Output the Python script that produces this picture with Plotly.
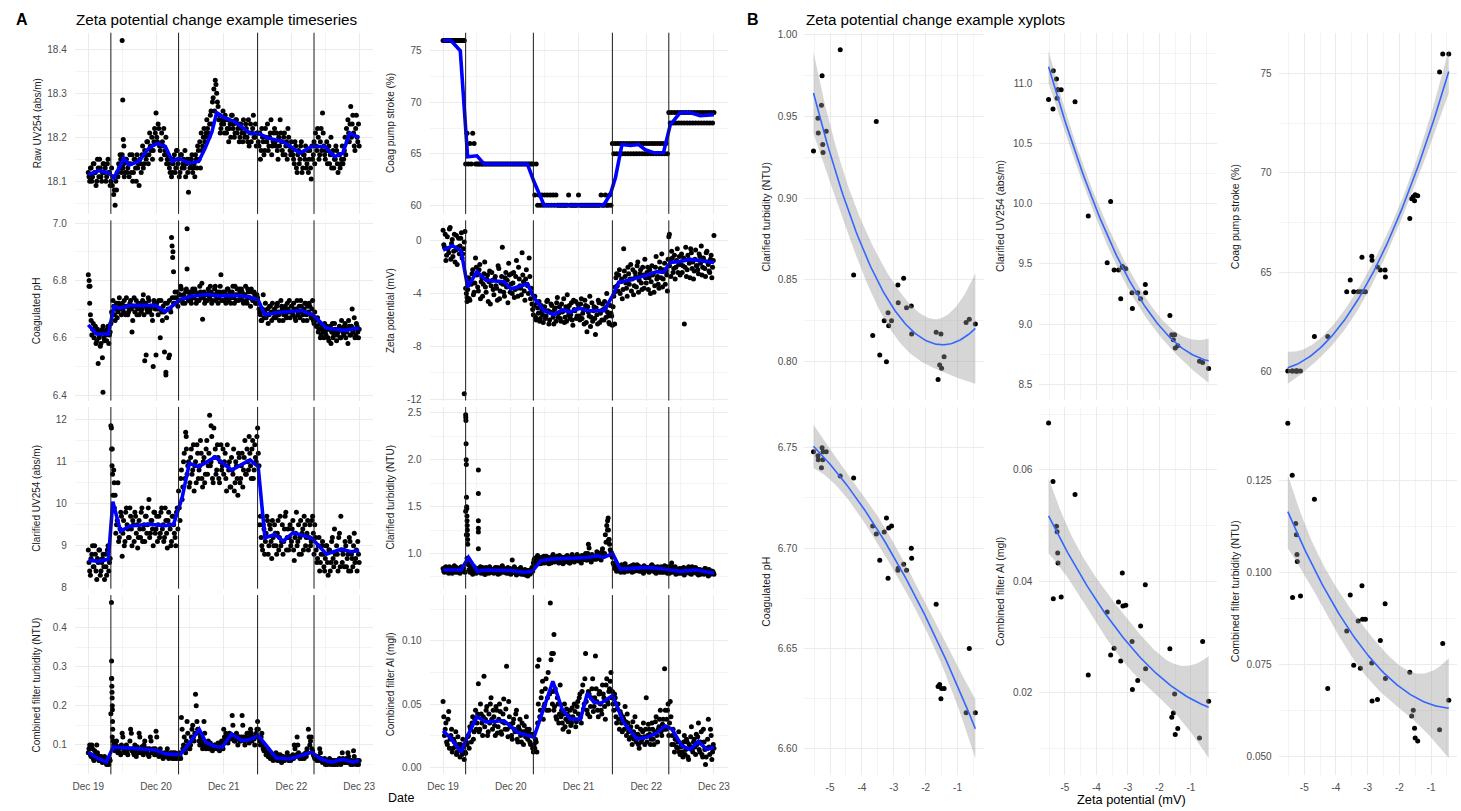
import numpy as np
import pandas as pd
import plotly.graph_objects as go

FONT = "Liberation Sans, Arial, sans-serif"
W, H = 1461, 811

# ======================= Panel A : time series =======================
T0 = pd.Timestamp("2020-12-19 00:00")
SAMPLE_STEP_H = 0.5             # readings every 30 min from Dec 19 00:00 (set a) ...
OFFSET_B_H = 0.25               # ... and a second reading set offset by 15 min (set b)
change_hours = [8, 32, 60, 80]  # vertical marker lines
date_tick_days = [0, 1, 2, 3, 4]
date_tick_text = ["Dec 19", "Dec 20", "Dec 21", "Dec 22", "Dec 23"]

raw_uv = [
    18.12, 18.10, 18.13, 18.11, 18.14, 18.12, 18.10, 18.13, 18.15, 18.11, 18.12, 18.14,
    18.13, 18.11, 18.15, 18.12, 18.10, 18.09, 18.07, 18.045, 18.08, 18.11, 18.13, 18.15,
    18.16, 18.14, 18.12, 18.15, 18.13, 18.11, 18.14, 18.16, 18.12, 18.15, 18.10, 18.13,
    18.09, 18.14, 18.16, 18.13, 18.17, 18.15, 18.19, 18.16, 18.18, 18.20, 18.17, 18.22,
    18.255, 18.19, 18.22, 18.17, 18.21, 18.18, 18.16, 18.20, 18.15, 18.14, 18.12, 18.11,
    18.14, 18.16, 18.13, 18.17, 18.15, 18.12, 18.16, 18.14, 18.13, 18.11, 18.15, 18.075,
    18.13, 18.15, 18.12, 18.14, 18.16, 18.13, 18.17, 18.19, 18.21, 18.18, 18.22, 18.20,
    18.24, 18.21, 18.23, 18.26, 18.28, 18.31, 18.33, 18.30, 18.27, 18.25, 18.22, 18.24,
    18.23, 18.25, 18.21, 18.24, 18.22, 18.20, 18.25, 18.23, 18.21, 18.24, 18.22, 18.19,
    18.23, 18.21, 18.24, 18.20, 18.22, 18.19, 18.18, 18.23, 18.21, 18.25, 18.20, 18.18,
    18.21, 18.18, 18.15, 18.22, 18.19, 18.17, 18.20, 18.23, 18.18, 18.21, 18.16, 18.19,
    18.22, 18.18, 18.17, 18.20, 18.24, 18.19, 18.16, 18.21, 18.18, 18.15, 18.20, 18.17,
    18.19, 18.16, 18.14, 18.18, 18.12, 18.17, 18.15, 18.19, 18.13, 18.16, 18.18, 18.14,
    18.12, 18.17, 18.105, 18.15, 18.19, 18.21, 18.17, 18.20, 18.16, 18.22, 18.255, 18.18,
    18.15, 18.19, 18.17, 18.14, 18.20, 18.16, 18.13, 18.15, 18.17, 18.12, 18.16, 18.14,
    18.18, 18.15, 18.20, 18.22, 18.24, 18.19, 18.27, 18.23, 18.21, 18.17, 18.25, 18.19,
    18.18]
raw_uv_b = [
    18.11, 18.13, 18.10, 18.14, 18.12, 18.09, 18.15, 18.11, 18.13, 18.10, 18.14, 18.12,
    18.10, 18.14, 18.12, 18.09, 18.13, 18.11, 18.08, 18.10, 18.12, 18.14, 18.16, 18.12,
    18.13, 18.11, 18.15, 18.12, 18.14, 18.16, 18.12, 18.10, 18.15, 18.13, 18.16, 18.14,
    18.15, 18.12, 18.18, 18.14, 18.16, 18.19, 18.14, 18.21, 18.17, 18.15, 18.19, 18.21,
    18.20, 18.23, 18.18, 18.15, 18.19, 18.22, 18.17, 18.14, 18.16, 18.13, 18.15, 18.12,
    18.15, 18.12, 18.17, 18.14, 18.11, 18.16, 18.13, 18.15, 18.17, 18.14, 18.12, 18.15,
    18.14, 18.16, 18.13, 18.11, 18.15, 18.18, 18.15, 18.13, 18.17, 18.20, 18.19, 18.21,
    18.22, 18.20, 18.25, 18.23, 18.29, 18.26, 18.32, 18.28, 18.24, 18.21, 18.23, 18.26,
    18.21, 18.24, 18.22, 18.19, 18.23, 18.25, 18.22, 18.20, 18.24, 18.21, 18.23, 18.20,
    18.22, 18.19, 18.21, 18.23, 18.20, 18.24, 18.21, 18.19, 18.22, 18.20, 18.23, 18.21,
    18.19, 18.21, 18.17, 18.20, 18.16, 18.22, 18.19, 18.17, 18.20, 18.24, 18.18, 18.21,
    18.19, 18.21, 18.15, 18.18, 18.21, 18.17, 18.20, 18.16, 18.19, 18.22, 18.18, 18.16,
    18.17, 18.15, 18.19, 18.13, 18.16, 18.14, 18.18, 18.12, 18.16, 18.15, 18.13, 18.17,
    18.15, 18.13, 18.18, 18.16, 18.14, 18.18, 18.22, 18.15, 18.19, 18.17, 18.21, 18.16,
    18.17, 18.14, 18.18, 18.16, 18.13, 18.17, 18.15, 18.18, 18.14, 18.16, 18.13, 18.15,
    18.14, 18.17, 18.16, 18.19, 18.21, 18.23, 18.20, 18.25, 18.18, 18.22, 18.20, 18.23]
raw_uv_out_h = [12.0, 12.2, 12.4, 12.6]
raw_uv_out_v = [18.42, 18.285, 18.195, 18.18]
raw_uv_sm_h = [0, 3.8, 7.3, 9.1, 12.6, 14.4, 17.9, 21.4, 24.4, 27.3, 29.8, 32.1, 35.5, 39.1, 41.4,
               43.8, 45.5, 47.8, 52.0, 57.3, 60.2, 63.8, 69.1, 75.0, 79.1, 83.8, 87.3, 90.2, 92.6, 96.0]
raw_uv_sm_v = [18.115, 18.124, 18.119, 18.107, 18.152, 18.137, 18.145, 18.175, 18.186, 18.179, 18.145,
               18.152, 18.141, 18.145, 18.175, 18.212, 18.256, 18.246, 18.235, 18.209, 18.209, 18.198,
               18.19, 18.164, 18.179, 18.179, 18.156, 18.164, 18.209, 18.199]

coag_pump = [
    76, 76, 76, 76, 76, 76, 76, 76, 76, 76, 76, 76,
    76, 76, 76, 76, 64, 67, 64, 66, 64, 67, 66, 64,
    64, 64, 64, 64, 64, 64, 64, 64, 64, 64, 64, 64,
    64, 64, 64, 64, 64, 64, 64, 64, 64, 64, 64, 64,
    64, 64, 64, 64, 64, 64, 64, 64, 64, 64, 64, 64,
    64, 64, 64, 64, 64, 61, 64, 60, 61, 60, 61, 60,
    61, 60, 61, 60, 61, 60, 61, 60, 61, 60, 60, 60,
    60, 60, 60, 60, 60, 61, 60, 60, 60, 60, 60, 60,
    61, 60, 60, 60, 60, 60, 60, 60, 60, 60, 60, 60,
    60, 60, 60, 60, 61, 60, 60, 61, 60, 60, 61, 60,
    66, 65, 66, 65, 66, 65, 66, 65, 66, 65, 66, 65,
    66, 65, 66, 65, 66, 65, 66, 65, 66, 65, 66, 65,
    66, 65, 66, 65, 66, 65, 66, 65, 66, 65, 66, 65,
    66, 65, 66, 65, 69, 68, 69, 68, 69, 68, 69, 68,
    69, 68, 69, 68, 69, 68, 69, 68, 69, 68, 69, 68,
    69, 68, 69, 68, 69, 68, 69, 68, 69, 68, 69, 68,
    69]
coag_pump_b = []
coag_pump_out_h = []
coag_pump_out_v = []
coag_pump_sm_h = [0, 2.8, 6.1, 8.7, 12, 14.6, 29.9, 32.2, 35.8, 56.9, 59.3, 61.1, 63.4, 66.4, 69.3,
                  71.6, 74.6, 78.1, 80.5, 84, 87.5, 91.1, 96]
coag_pump_sm_v = [76, 76, 75, 64.7, 64.8, 64.0, 64.0, 62.3, 60, 60, 61.1, 62.7, 65.9, 65.8, 65.9,
                  65.4, 65.1, 65.1, 67.8, 69.0, 69.0, 68.7, 68.8]

coag_ph = [
    6.82, 6.72, 6.66, 6.63, 6.60, 6.64, 6.59, 6.62, 6.61, 6.58, 6.63, 6.60,
    6.62, 6.59, 6.64, 6.61, 6.65, 6.68, 6.71, 6.66, 6.72, 6.69, 6.74, 6.70,
    6.72, 6.69, 6.71, 6.74, 6.68, 6.70, 6.73, 6.62, 6.71, 6.69, 6.73, 6.70,
    6.68, 6.72, 6.70, 6.75, 6.52, 6.71, 6.69, 6.73, 6.70, 6.68, 6.50, 6.72,
    6.54, 6.70, 6.73, 6.60, 6.69, 6.71, 6.55, 6.48, 6.72, 6.53, 6.70, 6.95,
    6.90, 6.74, 6.72, 6.76, 6.73, 6.75, 6.77, 6.72, 6.74, 6.76, 6.98, 6.73,
    6.75, 6.72, 6.77, 6.74, 6.76, 6.73, 6.75, 6.78, 6.74, 6.665, 6.76, 6.73,
    6.75, 6.77, 6.74, 6.76, 6.73, 6.75, 6.78, 6.74, 6.72, 6.76, 6.82, 6.75,
    6.73, 6.76, 6.74, 6.77, 6.75, 6.72, 6.76, 6.74, 6.78, 6.73, 6.75, 6.77,
    6.74, 6.76, 6.72, 6.75, 6.73, 6.77, 6.74, 6.71, 6.76, 6.73, 6.75, 6.72,
    6.74, 6.70, 6.68, 6.66, 6.75, 6.69, 6.67, 6.70, 6.68, 6.71, 6.66, 6.69,
    6.70, 6.67, 6.72, 6.68, 6.69, 6.71, 6.66, 6.70, 6.68, 6.72, 6.69, 6.67,
    6.71, 6.68, 6.70, 6.66, 6.73, 6.69, 6.67, 6.71, 6.68, 6.70, 6.72, 6.66,
    6.69, 6.71, 6.67, 6.73, 6.65, 6.66, 6.64, 6.62, 6.65, 6.61, 6.63, 6.60,
    6.62, 6.64, 6.60, 6.63, 6.58, 6.65, 6.61, 6.63, 6.59, 6.62, 6.64, 6.60,
    6.63, 6.61, 6.65, 6.62, 6.58, 6.64, 6.61, 6.70, 6.63, 6.60, 6.65, 6.62,
    6.63]
coag_ph_b = [
    6.78, 6.68, 6.61, 6.65, 6.62, 6.58, 6.63, 6.60, 6.57, 6.62, 6.64, 6.59,
    6.61, 6.63, 6.58, 6.62, 6.69, 6.73, 6.68, 6.70, 6.67, 6.72, 6.71, 6.68,
    6.70, 6.73, 6.68, 6.71, 6.69, 6.72, 6.70, 6.66, 6.74, 6.71, 6.68, 6.72,
    6.71, 6.69, 6.73, 6.68, 6.72, 6.70, 6.74, 6.69, 6.71, 6.66, 6.73, 6.70,
    6.72, 6.68, 6.70, 6.73, 6.66, 6.69, 6.72, 6.67, 6.70, 6.73, 6.69, 6.74,
    6.72, 6.76, 6.74, 6.71, 6.75, 6.78, 6.73, 6.75, 6.72, 6.77, 6.74, 6.76,
    6.73, 6.76, 6.74, 6.77, 6.72, 6.75, 6.73, 6.76, 6.79, 6.74, 6.72, 6.75,
    6.73, 6.76, 6.78, 6.72, 6.75, 6.77, 6.73, 6.76, 6.74, 6.78, 6.73, 6.76,
    6.75, 6.72, 6.77, 6.73, 6.76, 6.74, 6.78, 6.72, 6.75, 6.77, 6.73, 6.76,
    6.77, 6.73, 6.75, 6.78, 6.72, 6.76, 6.74, 6.77, 6.73, 6.76, 6.72, 6.75,
    6.72, 6.69, 6.66, 6.70, 6.67, 6.72, 6.68, 6.65, 6.71, 6.69, 6.72, 6.67,
    6.68, 6.71, 6.69, 6.66, 6.73, 6.70, 6.68, 6.71, 6.67, 6.70, 6.73, 6.69,
    6.69, 6.72, 6.67, 6.70, 6.68, 6.71, 6.73, 6.69, 6.66, 6.72, 6.68, 6.71,
    6.72, 6.68, 6.70, 6.66, 6.69, 6.64, 6.67, 6.63, 6.60, 6.64, 6.62, 6.65,
    6.61, 6.63, 6.59, 6.64, 6.62, 6.60, 6.65, 6.62, 6.61, 6.63, 6.60, 6.66,
    6.62, 6.64, 6.60, 6.63, 6.66, 6.61, 6.64, 6.62, 6.67, 6.61, 6.64, 6.60]
coag_ph_out_h = [0.3, 0.6, 3.5, 5.0, 5.2, 20.5, 27.5, 28.8, 29.7, 29.9, 30.2, 35.0]
coag_ph_out_v = [6.80, 6.78, 6.51, 6.53, 6.41, 6.54, 6.47, 6.54, 6.92, 6.88, 6.83, 6.84]
coag_ph_sm_h = [0, 2.9, 7.1, 9.1, 11.4, 15, 23.8, 27.3, 32.6, 36.7, 42.6, 46.1, 52, 56.7, 60.2,
                62.6, 67.3, 75.5, 79.6, 84.4, 90.8, 96]
coag_ph_sm_v = [6.645, 6.613, 6.613, 6.709, 6.703, 6.713, 6.713, 6.691, 6.734, 6.746, 6.751, 6.746,
                6.748, 6.743, 6.732, 6.68, 6.688, 6.695, 6.68, 6.634, 6.626, 6.634]

zeta = [
    0.8, -0.5, -1.5, 0.3, -0.9, 1.0, -0.2, -1.2, 0.5, -0.7, -1.8, 0.2,
    -0.4, 0.6, -1.0, -0.1, -3.6, -4.3, -2.8, -4.5, -3.3, -2.2, -3.9, -1.3,
    -2.6, -3.8, -1.8, -3.1, -4.2, -2.5, -3.5, -2.9, -4.6, -2.3, -3.4, -3.0,
    -4.1, -2.7, -3.6, -1.9, -4.4, -3.2, -0.5, -3.9, -2.8, -3.5, -4.7, -2.6,
    -3.3, -4.0, -2.4, -3.7, -1.5, -4.2, -2.9, -3.6, -0.9, -3.1, -4.5, -2.2,
    -3.4, -1.3, -4.4, -4.8, -5.6, -4.2, -6.0, -5.1, -4.6, -5.9, -5.3, -6.2,
    -5.0, -5.7, -4.5, -6.3, -5.4, -4.9, -5.8, -5.2, -6.1, -4.3, -5.5, -5.9,
    -4.8, -5.3, -6.2, -5.0, -4.1, -5.6, -5.9, -4.7, -6.4, -5.2, -4.6, -5.7,
    -5.1, -6.0, -4.4, -5.5, -6.3, -4.9, -6.9, -5.4, -4.2, -5.8, -6.1, -5.0,
    -7.1, -5.6, -4.5, -6.2, -5.3, -4.8, -6.0, -5.1, -4.0, -5.7, -6.3, -5.5,
    -6.4, -4.2, -3.5, -2.5, -3.8, -2.2, -3.1, -4.4, -0.6, -2.7, -3.6, -2.0,
    -3.3, -1.8, -2.9, -4.1, -2.4, -3.5, -1.6, -3.0, -2.2, -3.7, -2.6, -1.4,
    -3.2, -2.0, -2.8, -4.0, -1.9, -2.5, -3.4, -1.2, -2.7, -3.6, -2.1, -1.0,
    -2.9, -1.7, -2.3, -3.8, 0.3, -1.5, -0.8, -2.4, -1.1, -2.0, -0.6, -1.8,
    -2.6, -1.0, -1.9, -6.3, -0.5, -2.2, -1.4, -2.8, -0.9, -1.6, -2.3, -0.7,
    -1.9, -2.5, -1.2, -0.4, -2.0, -1.5, -2.7, -0.8, -1.8, -2.4, -1.1, -2.0,
    0.4]
zeta_b = [
    -0.3, 0.5, -1.1, -0.6, 0.9, -1.4, 0.1, -0.8, -1.6, 0.4, -0.5, -1.0,
    0.2, -1.3, -0.6, 0.7, -4.0, -3.7, -4.4, -3.0, -2.5, -4.1, -3.2, -2.0,
    -3.5, -2.2, -4.4, -2.8, -3.3, -1.6, -3.9, -2.6, -3.1, -4.8, -2.4, -3.7,
    -2.9, -3.4, -4.5, -2.1, -3.8, -2.7, -3.3, -4.2, -2.4, -3.0, -1.7, -3.9,
    -2.5, -3.2, -4.3, -2.7, -3.6, -2.0, -3.4, -4.1, -2.6, -3.8, -2.9, -3.3,
    -4.0, -2.7, -3.6, -5.2, -4.9, -5.8, -4.7, -5.5, -6.1, -4.9, -5.6, -5.2,
    -5.9, -4.6, -5.3, -6.0, -4.8, -5.5, -6.3, -5.1, -4.7, -5.8, -5.0, -6.1,
    -5.4, -4.4, -5.8, -6.1, -5.2, -4.9, -5.6, -6.0, -4.5, -5.3, -5.9, -4.8,
    -5.7, -4.8, -5.9, -5.2, -4.5, -6.2, -5.0, -5.7, -6.5, -4.7, -5.3, -5.9,
    -5.1, -6.3, -4.7, -5.5, -6.0, -5.2, -4.6, -5.8, -5.4, -6.2, -4.9, -5.7,
    -5.0, -3.9, -2.8, -3.4, -2.6, -4.0, -2.9, -3.7, -2.3, -3.2, -4.2, -2.5,
    -2.9, -3.8, -2.2, -3.4, -2.7, -1.9, -3.9, -2.5, -3.2, -2.0, -3.6, -2.8,
    -2.4, -3.7, -2.2, -3.1, -2.6, -3.9, -2.0, -2.9, -3.3, -1.6, -2.8, -3.5,
    -2.2, -3.3, -2.6, -1.4, -1.9, -2.7, -1.3, -2.1, -2.9, -1.5, -2.4, -1.2,
    -1.8, -2.4, -1.3, -2.0, -2.7, -1.1, -1.7, -0.6, -2.1, -2.9, -1.4, -1.9,
    -2.2, -1.0, -1.7, -2.6, -1.3, -2.1, -0.9, -1.6, -2.3, -1.4, -2.8, -1.5]
zeta_out_h = [7.5, 8.5, 60.8, 80.2]
zeta_out_v = [-11.6, -4.6, -6.3, 0.5]
zeta_sm_h = [0, 3.4, 6.4, 8.7, 12, 15.2, 21.6, 24, 29.9, 32.2, 35.8, 39.3, 42.2, 45.2, 48.1, 51.1,
             57, 60.5, 62.2, 65.8, 68.7, 71.6, 75.8, 78.1, 80.5, 84, 87.5, 92.2, 96]
zeta_sm_v = [-0.7, -0.38, -0.76, -3.5, -2.34, -3.0, -3.1, -3.65, -3.27, -4.3, -5.3, -5.6, -5.24, -5.4,
             -5.1, -5.3, -5.3, -4.0, -3.15, -3.0, -2.8, -2.65, -2.34, -2.4, -1.64, -1.56, -1.41, -1.5, -1.64]

clar_uv = [
    8.9, 8.4, 8.7, 9.0, 8.5, 8.8, 8.2, 8.6, 8.9, 8.4, 8.7, 8.5,
    8.8, 8.3, 9.0, 8.6, 11.85, 11.3, 10.8, 10.2, 9.5, 10.5, 9.2, 9.8,
    8.75, 9.6, 9.1, 9.9, 9.4, 9.2, 9.7, 9.0, 9.5, 9.8, 9.3, 8.95,
    9.6, 9.2, 9.9, 9.4, 9.1, 9.7, 9.5, 10.1, 9.3, 9.6, 9.0, 9.8,
    9.4, 9.1, 9.7, 9.3, 9.9, 9.5, 9.2, 9.6, 8.95, 9.8, 9.4, 9.1,
    9.7, 9.3, 9.0, 9.9, 10.3, 9.6, 10.8, 10.4, 11.2, 11.7, 10.7, 11.0,
    10.5, 11.3, 10.8, 10.3, 11.0, 11.4, 10.6, 10.9, 11.2, 10.4, 11.1, 10.7,
    11.5, 10.9, 12.1, 11.0, 10.6, 11.8, 11.3, 10.8, 11.1, 10.5, 11.4, 10.9,
    10.7, 11.2, 10.3, 10.9, 11.0, 10.4, 10.8, 11.3, 10.5, 10.9, 10.2, 11.1,
    10.6, 11.2, 10.8, 11.5, 10.7, 11.0, 11.6, 10.9, 11.3, 10.6, 11.4, 11.0,
    11.8, 10.9, 9.7, 9.0, 9.5, 8.8, 9.3, 9.6, 9.0, 9.4, 8.7, 9.2,
    9.5, 9.0, 9.3, 8.9, 9.7, 9.1, 8.8, 9.4, 9.8, 9.2, 8.9, 9.5,
    9.1, 9.6, 8.65, 9.3, 9.0, 9.5, 9.2, 8.8, 9.4, 9.7, 9.0, 9.3,
    8.9, 9.5, 9.1, 9.7, 8.8, 9.2, 8.6, 9.0, 8.4, 8.8, 9.1, 8.5,
    8.7, 9.0, 8.3, 8.9, 8.6, 9.2, 8.5, 8.8, 9.0, 8.4, 9.3, 9.7,
    8.6, 8.9, 9.1, 8.5, 8.8, 9.2, 8.4, 8.7, 9.0, 8.6, 8.9, 9.1,
    8.6]
clar_uv_b = [
    8.6, 8.3, 8.8, 8.5, 9.0, 8.4, 8.7, 8.9, 8.3, 8.6, 8.8, 8.2,
    8.5, 8.9, 8.4, 8.7, 11.3, 10.2, 9.9, 9.3, 9.6, 9.1, 9.4, 9.7,
    9.3, 9.0, 9.8, 9.5, 9.2, 9.9, 9.4, 9.6, 9.1, 9.7, 9.5, 9.2,
    9.4, 9.8, 9.1, 9.5, 9.7, 9.3, 9.9, 9.2, 9.6, 9.4, 9.8, 9.3,
    9.7, 9.5, 9.2, 9.8, 9.4, 9.1, 9.9, 9.3, 9.6, 9.5, 9.0, 9.7,
    9.5, 9.2, 9.8, 9.4, 9.9, 10.6, 10.1, 11.0, 10.6, 11.3, 10.9, 10.4,
    11.1, 10.7, 11.4, 10.9, 10.5, 11.2, 10.8, 11.5, 10.6, 11.0, 10.5, 11.3,
    10.7, 11.2, 10.9, 11.6, 10.5, 11.1, 10.7, 11.4, 10.6, 11.0, 10.8, 11.3,
    11.0, 10.6, 11.4, 10.8, 10.4, 11.1, 10.7, 10.3, 11.0, 10.6, 11.2, 10.5,
    10.9, 10.4, 11.1, 10.7, 11.3, 10.8, 11.2, 10.6, 11.5, 10.8, 11.1, 11.6,
    11.2, 9.5, 9.2, 8.9, 9.4, 9.1, 9.7, 8.8, 9.5, 9.1, 9.6, 9.0,
    9.3, 8.8, 9.6, 9.2, 9.0, 9.5, 9.1, 9.7, 8.9, 9.4, 9.2, 9.0,
    9.4, 8.9, 9.2, 9.8, 9.1, 8.8, 9.6, 9.3, 8.9, 9.5, 9.2, 9.6,
    9.2, 9.0, 9.6, 9.3, 9.5, 8.9, 8.7, 9.2, 8.6, 9.0, 8.8, 8.4,
    9.0, 8.6, 8.9, 8.4, 9.1, 8.7, 9.4, 8.6, 8.8, 9.2, 8.5, 8.9,
    8.8, 8.5, 9.0, 8.7, 8.4, 9.1, 8.8, 8.5, 9.3, 8.7, 8.4, 8.8]
clar_uv_out_h = [8.2, 8.4, 8.6, 9.2, 34.7, 43.5]
clar_uv_out_v = [11.8, 10.9, 10.7, 10.5, 11.6, 11.85]
clar_uv_sm_h = [0, 3.8, 7.1, 8.7, 11.4, 14.9, 21.4, 27.3, 30.2, 33.2, 35.8, 39.1, 45, 50.8, 57.3,
                60.2, 62.6, 66.1, 69.1, 72.6, 79.1, 84.4, 89.6, 93.2, 96]
clar_uv_sm_v = [8.66, 8.63, 8.68, 10.05, 9.35, 9.47, 9.51, 9.48, 9.51, 10.13, 10.96, 10.88, 11.11,
                10.8, 11.04, 10.88, 9.19, 9.27, 9.11, 9.31, 9.19, 8.8, 8.92, 8.86, 8.89]

clar_turb = [
    0.84, 0.80, 0.86, 0.82, 0.79, 0.85, 0.81, 0.83, 0.87, 0.80, 0.84, 0.82,
    0.79, 0.86, 0.83, 0.81, 1.45, 0.95, 0.88, 0.80, 0.84, 0.78, 0.86, 0.82,
    0.80, 1.05, 0.83, 0.79, 0.85, 0.81, 0.78, 0.84, 0.82, 0.86, 0.80, 0.83,
    0.79, 0.85, 0.81, 0.78, 0.84, 0.82, 0.87, 0.80, 0.83, 0.79, 0.85, 0.81,
    0.78, 0.93, 0.80, 0.84, 0.77, 0.82, 0.79, 0.85, 0.81, 0.78, 0.83, 0.80,
    0.76, 0.82, 0.79, 0.85, 0.90, 0.95, 0.88, 0.98, 0.92, 0.89, 0.96, 0.93,
    0.90, 0.97, 0.93, 0.89, 0.95, 0.92, 0.99, 0.91, 0.94, 0.97, 0.90, 0.95,
    0.93, 0.89, 0.96, 0.92, 0.98, 0.94, 0.90, 0.97, 0.93, 0.91, 0.96, 0.99,
    0.92, 0.95, 0.90, 0.97, 0.94, 1.00, 0.93, 1.10, 0.96, 0.91, 0.98, 0.94,
    0.97, 1.02, 0.95, 0.99, 0.93, 1.05, 0.98, 1.20, 1.30, 1.38, 1.10, 1.02,
    0.96, 0.88, 0.85, 0.81, 0.87, 0.83, 0.80, 0.86, 0.82, 0.89, 0.84, 0.81,
    0.86, 0.83, 0.80, 0.88, 0.84, 0.82, 0.87, 0.81, 0.85, 0.83, 0.79, 0.86,
    0.82, 0.85, 0.80, 0.84, 0.88, 0.81, 0.83, 0.79, 0.86, 0.82, 0.84, 0.80,
    0.83, 0.87, 0.81, 0.79, 0.85, 0.82, 0.90, 0.80, 0.84, 0.78, 0.83, 0.81,
    0.79, 0.84, 0.81, 0.77, 0.83, 0.80, 0.86, 0.82, 0.78, 0.84, 0.81, 0.85,
    0.80, 0.77, 0.83, 0.79, 0.82, 0.78, 0.84, 0.80, 0.76, 0.82, 0.79, 0.81,
    0.78]
clar_turb_b = [
    0.81, 0.85, 0.83, 0.80, 0.86, 0.82, 0.79, 0.84, 0.81, 0.85, 0.80, 0.83,
    0.85, 0.81, 0.84, 0.80, 1.20, 0.90, 0.83, 0.86, 0.80, 0.84, 0.81, 0.79,
    0.84, 0.82, 0.86, 0.80, 0.83, 0.78, 0.85, 0.81, 0.79, 0.84, 0.82, 0.80,
    0.83, 0.80, 0.85, 0.82, 0.79, 0.86, 0.81, 0.84, 0.80, 0.82, 0.79, 0.84,
    0.82, 0.80, 0.86, 0.79, 0.83, 0.81, 0.84, 0.78, 0.82, 0.80, 0.77, 0.82,
    0.80, 0.78, 0.83, 0.81, 0.93, 0.89, 0.96, 0.91, 0.95, 0.93, 0.90, 0.97,
    0.94, 0.91, 0.96, 0.93, 0.90, 0.97, 0.94, 0.92, 0.96, 0.93, 0.98, 0.92,
    0.96, 0.93, 0.91, 0.97, 0.93, 0.90, 0.95, 0.99, 0.92, 0.95, 0.93, 0.97,
    0.95, 0.92, 0.98, 0.94, 0.97, 0.93, 1.00, 1.06, 0.94, 0.99, 0.95, 0.97,
    0.94, 0.98, 1.00, 0.95, 1.02, 0.97, 1.00, 1.12, 1.25, 1.15, 1.04, 0.98,
    0.90, 0.84, 0.87, 0.82, 0.85, 0.81, 0.88, 0.84, 0.80, 0.86, 0.83, 0.85,
    0.82, 0.87, 0.84, 0.81, 0.85, 0.88, 0.83, 0.86, 0.81, 0.84, 0.87, 0.82,
    0.85, 0.81, 0.84, 0.87, 0.82, 0.86, 0.80, 0.85, 0.83, 0.80, 0.86, 0.82,
    0.80, 0.84, 0.86, 0.82, 0.79, 0.87, 0.84, 0.81, 0.86, 0.82, 0.79, 0.84,
    0.82, 0.79, 0.85, 0.81, 0.80, 0.84, 0.79, 0.83, 0.86, 0.80, 0.83, 0.79,
    0.83, 0.80, 0.78, 0.82, 0.80, 0.84, 0.79, 0.81, 0.83, 0.78, 0.81, 0.80]
clar_turb_out_h = [8.0, 8.05, 8.1, 8.15, 8.2, 8.25, 8.3, 8.35, 8.4, 8.45, 8.5, 8.55, 8.6, 8.65, 8.7,
                   8.75, 12.5, 12.5, 12.5, 12.5, 12.5, 58.3, 58.6, 58.8]
clar_turb_out_v = [2.48, 2.45, 2.42, 2.17, 2.00, 1.95, 1.60, 1.50, 1.48, 1.40, 1.35, 1.30, 1.25, 1.20,
                   1.15, 1.10, 1.89, 1.64, 1.35, 1.27, 1.23, 1.35, 1.25, 1.15]
clar_turb_sm_h = [0, 6.4, 9, 12.2, 15.2, 24, 28.7, 31.6, 34.6, 38.1, 51, 54.6, 56.9, 60.1, 62.8,
                  72.2, 78.1, 84, 89.9, 96]
clar_turb_sm_v = [0.824, 0.824, 0.958, 0.81, 0.824, 0.817, 0.80, 0.81, 0.922, 0.94, 0.958, 0.975,
                  0.958, 1.0, 0.834, 0.852, 0.834, 0.81, 0.824, 0.789]

filt_turb = [
    0.08, 0.10, 0.07, 0.09, 0.06, 0.075, 0.10, 0.065, 0.06, 0.07, 0.055, 0.065,
    0.06, 0.05, 0.055, 0.065, 0.18, 0.12, 0.10, 0.085, 0.11, 0.08, 0.095, 0.075,
    0.13, 0.09, 0.08, 0.10, 0.075, 0.09, 0.14, 0.085, 0.08, 0.10, 0.07, 0.09,
    0.13, 0.08, 0.095, 0.075, 0.11, 0.085, 0.09, 0.07, 0.12, 0.08, 0.09, 0.075,
    0.135, 0.08, 0.07, 0.09, 0.075, 0.065, 0.08, 0.07, 0.09, 0.065, 0.075, 0.07,
    0.08, 0.065, 0.07, 0.075, 0.065, 0.07, 0.17, 0.09, 0.12, 0.08, 0.16, 0.10,
    0.09, 0.12, 0.15, 0.11, 0.23, 0.16, 0.13, 0.10, 0.12, 0.09, 0.16, 0.10,
    0.095, 0.11, 0.09, 0.10, 0.085, 0.095, 0.10, 0.09, 0.105, 0.085, 0.095, 0.10,
    0.14, 0.11, 0.12, 0.105, 0.13, 0.115, 0.175, 0.12, 0.11, 0.13, 0.10, 0.12,
    0.11, 0.175, 0.12, 0.10, 0.115, 0.13, 0.105, 0.14, 0.11, 0.12, 0.10, 0.13,
    0.16, 0.12, 0.10, 0.13, 0.09, 0.085, 0.075, 0.08, 0.07, 0.065, 0.075, 0.06,
    0.07, 0.08, 0.06, 0.065, 0.075, 0.055, 0.07, 0.06, 0.065, 0.08, 0.06, 0.07,
    0.065, 0.075, 0.10, 0.07, 0.12, 0.08, 0.065, 0.07, 0.075, 0.065, 0.08, 0.09,
    0.14, 0.10, 0.12, 0.085, 0.07, 0.065, 0.06, 0.07, 0.09, 0.065, 0.055, 0.06,
    0.05, 0.06, 0.055, 0.065, 0.05, 0.06, 0.055, 0.05, 0.06, 0.055, 0.065, 0.05,
    0.08, 0.06, 0.055, 0.065, 0.08, 0.06, 0.05, 0.055, 0.085, 0.06, 0.05, 0.055,
    0.06]
filt_turb_b = [
    0.09, 0.075, 0.10, 0.065, 0.085, 0.07, 0.08, 0.06, 0.07, 0.065, 0.06, 0.07,
    0.055, 0.06, 0.05, 0.06, 0.27, 0.11, 0.09, 0.10, 0.085, 0.09, 0.08, 0.10,
    0.12, 0.085, 0.095, 0.08, 0.09, 0.11, 0.13, 0.09, 0.075, 0.085, 0.095, 0.08,
    0.12, 0.09, 0.08, 0.10, 0.09, 0.08, 0.075, 0.09, 0.11, 0.085, 0.08, 0.09,
    0.12, 0.075, 0.085, 0.08, 0.07, 0.075, 0.07, 0.08, 0.075, 0.07, 0.08, 0.065,
    0.07, 0.08, 0.065, 0.07, 0.08, 0.065, 0.14, 0.10, 0.09, 0.11, 0.13, 0.09,
    0.10, 0.14, 0.12, 0.13, 0.20, 0.14, 0.11, 0.12, 0.10, 0.11, 0.13, 0.09,
    0.10, 0.09, 0.105, 0.095, 0.09, 0.10, 0.095, 0.10, 0.09, 0.10, 0.11, 0.09,
    0.12, 0.13, 0.11, 0.12, 0.12, 0.125, 0.15, 0.11, 0.125, 0.115, 0.12, 0.11,
    0.12, 0.15, 0.11, 0.12, 0.13, 0.11, 0.12, 0.13, 0.12, 0.115, 0.12, 0.14,
    0.14, 0.11, 0.12, 0.10, 0.085, 0.09, 0.08, 0.07, 0.075, 0.07, 0.065, 0.07,
    0.065, 0.07, 0.075, 0.06, 0.065, 0.07, 0.06, 0.065, 0.07, 0.07, 0.065, 0.06,
    0.07, 0.065, 0.09, 0.075, 0.10, 0.07, 0.07, 0.065, 0.07, 0.075, 0.07, 0.08,
    0.12, 0.11, 0.09, 0.075, 0.065, 0.07, 0.065, 0.06, 0.08, 0.06, 0.06, 0.065,
    0.055, 0.05, 0.06, 0.055, 0.06, 0.05, 0.06, 0.055, 0.05, 0.06, 0.055, 0.06,
    0.065, 0.055, 0.06, 0.055, 0.07, 0.055, 0.06, 0.05, 0.07, 0.055, 0.06, 0.05]
filt_turb_out_h = [8.2, 8.25, 8.3, 8.35, 8.4, 8.45, 8.5, 8.55, 8.6, 8.65]
filt_turb_out_v = [0.465, 0.315, 0.27, 0.25, 0.235, 0.22, 0.20, 0.19, 0.16, 0.14]
filt_turb_sm_h = [0, 3.2, 6.4, 8.8, 12, 23.8, 27.3, 32.6, 36.1, 39.3, 41.6, 44.9, 47.5, 50.8, 54.4,
                  57.3, 60.2, 63.8, 66.7, 71.4, 75.5, 79.1, 82.6, 86.1, 90.2, 93.8, 96]
filt_turb_sm_v = [0.081, 0.066, 0.056, 0.094, 0.093, 0.087, 0.077, 0.075, 0.107, 0.14, 0.107, 0.096,
                  0.094, 0.128, 0.111, 0.113, 0.124, 0.09, 0.066, 0.064, 0.073, 0.081, 0.063, 0.056,
                  0.063, 0.056, 0.06]

filt_al = [
    0.052, 0.025, 0.035, 0.018, 0.044, 0.022, 0.030, 0.015, 0.020, 0.028, 0.012, 0.018,
    0.008, 0.014, 0.022, 0.006, 0.011, 0.018, 0.025, 0.032, 0.020, 0.040, 0.028, 0.045,
    0.035, 0.066, 0.030, 0.042, 0.025, 0.072, 0.038, 0.048, 0.028, 0.035, 0.055, 0.030,
    0.040, 0.025, 0.045, 0.032, 0.050, 0.028, 0.036, 0.054, 0.030, 0.080, 0.024, 0.040,
    0.032, 0.022, 0.038, 0.028, 0.045, 0.020, 0.030, 0.025, 0.035, 0.018, 0.028, 0.040,
    0.022, 0.030, 0.018, 0.026, 0.012, 0.015, 0.020, 0.035, 0.085, 0.045, 0.060, 0.038,
    0.050, 0.070, 0.055, 0.045, 0.130, 0.090, 0.060, 0.048, 0.040, 0.055, 0.035, 0.065,
    0.045, 0.030, 0.050, 0.038, 0.042, 0.028, 0.045, 0.035, 0.040, 0.050, 0.032, 0.048,
    0.042, 0.058, 0.035, 0.065, 0.050, 0.090, 0.045, 0.060, 0.040, 0.055, 0.070, 0.048,
    0.088, 0.052, 0.040, 0.060, 0.045, 0.065, 0.055, 0.038, 0.070, 0.050, 0.062, 0.075,
    0.060, 0.045, 0.055, 0.035, 0.050, 0.030, 0.042, 0.028, 0.038, 0.048, 0.025, 0.035,
    0.022, 0.032, 0.018, 0.028, 0.040, 0.020, 0.026, 0.015, 0.030, 0.022, 0.035, 0.018,
    0.055, 0.025, 0.030, 0.018, 0.035, 0.022, 0.028, 0.040, 0.020, 0.032, 0.045, 0.025,
    0.038, 0.078, 0.030, 0.045, 0.025, 0.052, 0.018, 0.030, 0.012, 0.022, 0.015, 0.028,
    0.010, 0.018, 0.008, 0.025, 0.014, 0.020, 0.006, 0.016, 0.032, 0.012, 0.022, 0.010,
    0.018, 0.035, 0.012, 0.028, 0.008, 0.020, 0.002, 0.015, 0.038, 0.010, 0.025, 0.012,
    0.015]
filt_al_b = [
    0.040, 0.030, 0.020, 0.038, 0.015, 0.025, 0.012, 0.022, 0.016, 0.010, 0.024, 0.014,
    0.018, 0.010, 0.016, 0.012, 0.020, 0.024, 0.015, 0.030, 0.035, 0.022, 0.038, 0.030,
    0.042, 0.028, 0.050, 0.035, 0.040, 0.032, 0.045, 0.025, 0.042, 0.050, 0.038, 0.045,
    0.033, 0.048, 0.027, 0.038, 0.044, 0.026, 0.042, 0.035, 0.046, 0.030, 0.052, 0.034,
    0.025, 0.035, 0.030, 0.042, 0.022, 0.032, 0.038, 0.020, 0.028, 0.033, 0.024, 0.030,
    0.028, 0.020, 0.025, 0.015, 0.018, 0.022, 0.012, 0.050, 0.040, 0.055, 0.068, 0.048,
    0.062, 0.045, 0.075, 0.058, 0.085, 0.050, 0.045, 0.062, 0.038, 0.050, 0.042, 0.040,
    0.035, 0.042, 0.032, 0.046, 0.036, 0.040, 0.033, 0.047, 0.038, 0.044, 0.036, 0.052,
    0.055, 0.040, 0.060, 0.046, 0.070, 0.052, 0.042, 0.058, 0.048, 0.062, 0.044, 0.055,
    0.062, 0.045, 0.058, 0.050, 0.042, 0.058, 0.048, 0.065, 0.052, 0.060, 0.068, 0.055,
    0.050, 0.058, 0.040, 0.046, 0.038, 0.044, 0.035, 0.040, 0.030, 0.036, 0.042, 0.028,
    0.030, 0.024, 0.036, 0.022, 0.026, 0.032, 0.018, 0.024, 0.020, 0.028, 0.024, 0.030,
    0.020, 0.034, 0.026, 0.022, 0.030, 0.018, 0.036, 0.025, 0.030, 0.038, 0.028, 0.034,
    0.030, 0.045, 0.038, 0.050, 0.035, 0.040, 0.025, 0.018, 0.022, 0.016, 0.020, 0.012,
    0.016, 0.012, 0.020, 0.010, 0.022, 0.008, 0.018, 0.024, 0.014, 0.020, 0.016, 0.026,
    0.024, 0.014, 0.020, 0.010, 0.030, 0.014, 0.008, 0.022, 0.016, 0.030, 0.006, 0.018]
filt_al_out_h = [33.5, 39.1, 39.3]
filt_al_out_v = [0.080, 0.090, 0.105]
filt_al_sm_h = [0, 2.8, 6.4, 8.7, 12, 15.2, 21.6, 26.4, 32.2, 35.2, 38.9, 42.2, 45.2, 48.7, 51.1,
                53.4, 55.8, 60.1, 64, 68.7, 72.2, 75.2, 78.7, 81.1, 84.6, 87.5, 90.5, 93.4, 96]
filt_al_sm_v = [0.0288, 0.0228, 0.0118, 0.0249, 0.040, 0.0359, 0.0367, 0.0275, 0.0236, 0.0445, 0.068,
                0.0458, 0.038, 0.038, 0.0584, 0.0516, 0.0505, 0.0568, 0.0353, 0.0223, 0.0236, 0.0262,
                0.0327, 0.0301, 0.017, 0.0139, 0.0204, 0.0139, 0.0157]

# ======================= Panel B : xy plots =======================
zeta_x = [-5.52, -5.38, -5.37, -5.27, -5.25, -5.23, -5.22, -5.12, -4.68, -4.26, -3.66, -3.55, -3.44,
          -3.30, -3.23, -3.18, -3.16, -3.07, -2.87, -2.86, -2.69, -2.60, -2.45, -2.44, -1.67, -1.61,
          -1.56, -1.52, -1.50, -1.42, -0.73, -0.63, -0.44]
b_clar_turb = [0.929, 0.949, 0.940, 0.957, 0.975, 0.933, 0.928, 0.941, 0.991, 0.853, 0.816, 0.947,
               0.804, 0.825, 0.800, 0.830, 0.822, 0.825, 0.847, 0.836, 0.851, 0.833, 0.834, 0.817,
               0.818, 0.789, 0.798, 0.817, 0.796, 0.803, 0.824, 0.826, 0.823]
b_clar_uv = [10.87, 10.79, 11.11, 11.04, 10.88, 10.95, 10.95, 10.95, 10.85, 9.90, 9.51, 10.02, 9.45,
             9.45, 9.21, 9.48, 9.47, 9.46, 9.26, 9.13, 9.26, 9.21, 9.33, 9.26, 9.07, 8.91, 8.87, 8.91,
             8.80, 8.82, 8.69, 8.68, 8.63]
b_coag_pump = [60.0, 60.0, 60.0, 60.0, 60.0, 60.0, 60.0, 60.0, 61.75, 61.75, 64.0, 64.6, 64.0, 64.0,
               64.0, 65.75, 64.0, 64.0, 65.8, 65.6, 65.25, 65.1, 65.1, 64.75, 67.7, 68.7, 68.8, 68.6,
               68.9, 68.85, 75.1, 76.0, 76.0]
b_coag_ph = [6.748, 6.746, 6.744, 6.740, 6.750, 6.744, 6.748, 6.748, 6.736, 6.735, 6.711, 6.707,
             6.694, 6.708, 6.715, 6.685, 6.710, 6.711, 6.689, 6.690, 6.692, 6.689, 6.700, 6.695,
             6.672, 6.631, 6.632, 6.625, 6.630, 6.630, 6.618, 6.650, 6.618]
b_filt_al = [0.0684, 0.0579, 0.0369, 0.0499, 0.0489, 0.0451, 0.0433, 0.0372, 0.0556, 0.0232, 0.0345,
             0.0268, 0.0280, 0.0363, 0.0257, 0.0415, 0.0356, 0.0357, 0.0292, 0.0206, 0.0222, 0.0320,
             0.0394, 0.0243, 0.0279, 0.0156, 0.0164, 0.0198, 0.0125, 0.0136, 0.0119, 0.0292, 0.0185]
b_filt_turb = [0.1404, 0.1263, 0.0931, 0.1132, 0.1101, 0.1048, 0.1029, 0.0935, 0.1198, 0.0684,
               0.0840, 0.0938, 0.0747, 0.0867, 0.0739, 0.0963, 0.0872, 0.0872, 0.0753, 0.0650,
               0.0654, 0.0814, 0.0914, 0.0711, 0.0728, 0.0609, 0.0625, 0.0576, 0.0549, 0.0541,
               0.0572, 0.0806, 0.0652]
b_x_ticks = [-5, -4, -3, -2, -1]

# ======================= layout helpers =======================
A_COLS = [(73, 372), (429, 728)]
A_ROWS = [(30, 213), (219.5, 401.5), (408, 591.5), (598, 779)]
B_COLS = [(805, 985), (1041, 1219), (1281, 1460)]
B_ROWS = [(30, 401), (408.5, 780)]
A_YTITLE_X = [35, 390]
B_YTITLE_X = [767, 1002, 1238]


def dom_x(a, b):
    return [a / W, b / W]


def dom_y(top, bot):
    return [1 - bot / H, 1 - top / H]


def hours_to_time(hours):
    return [T0 + pd.Timedelta(hours=float(h)) for h in hours]


def axis_names(k):
    if k == 1:
        return "x", "y", "xaxis", "yaxis"
    return f"x{k}", f"y{k}", f"xaxis{k}", f"yaxis{k}"


GRID = "#EBEBEB"
MINOR = "#F4F4F4"
TICKFONT = dict(family=FONT, size=10, color="#4D4D4D")

fig = go.Figure()
layout = dict()
annotations = []
shapes = []

A_panels = [
    # row, col, title, pts, pts_b, out_h, out_v, sm_h, sm_v, yrange, yticks, fmt, yminor
    (0, 0, "Raw UV254 (abs/m)", raw_uv, raw_uv_b, raw_uv_out_h, raw_uv_out_v, raw_uv_sm_h, raw_uv_sm_v,
     [18.0256, 18.438], [18.1, 18.2, 18.3, 18.4], ".1f", [18.05, 18.15, 18.25, 18.35]),
    (0, 1, "Coag pump stroke (%)", coag_pump, coag_pump_b, coag_pump_out_h, coag_pump_out_v, coag_pump_sm_h,
     coag_pump_sm_v, [59.16, 76.76], [60, 65, 70, 75], "d", [62.5, 67.5, 72.5]),
    (1, 0, "Coagulated pH", coag_ph, coag_ph_b, coag_ph_out_h, coag_ph_out_v, coag_ph_sm_h, coag_ph_sm_v,
     [6.381, 7.0097], [6.4, 6.6, 6.8, 7.0], ".1f", [6.5, 6.7, 6.9]),
    (1, 1, "Zeta potential (mV)", zeta, zeta_b, zeta_out_h, zeta_out_v, zeta_sm_h, zeta_sm_v,
     [-12.11, 1.55], [-12, -8, -4, 0], "d", [-10, -6, -2]),
    (2, 0, "Clarified UV254 (abs/m)", clar_uv, clar_uv_b, clar_uv_out_h, clar_uv_out_v, clar_uv_sm_h,
     clar_uv_sm_v, [7.981, 12.299], [8, 9, 10, 11, 12], "d", [8.5, 9.5, 10.5, 11.5]),
    (2, 1, "Clarified turbidity (NTU)", clar_turb, clar_turb_b, clar_turb_out_h, clar_turb_out_v,
     clar_turb_sm_h, clar_turb_sm_v, [0.625, 2.563], [1.0, 1.5, 2.0, 2.5], ".1f", [0.75, 1.25, 1.75, 2.25]),
    (3, 0, "Combined filter turbidity (NTU)", filt_turb, filt_turb_b, filt_turb_out_h, filt_turb_out_v,
     filt_turb_sm_h, filt_turb_sm_v, [0.0246, 0.4837], [0.1, 0.2, 0.3, 0.4], ".1f",
     [0.05, 0.15, 0.25, 0.35, 0.45]),
    (3, 1, "Combined filter Al (mgl)", filt_al, filt_al_b, filt_al_out_h, filt_al_out_v, filt_al_sm_h,
     filt_al_sm_v, [-0.0057, 0.1363], [0.0, 0.05, 0.10], ".2f", [0.025, 0.075, 0.125]),
]

x_range_A = [T0 - pd.Timedelta(days=0.2), T0 + pd.Timedelta(days=4.2)]
date_tickvals = [T0 + pd.Timedelta(days=d) for d in date_tick_days]
date_minorvals = [T0 + pd.Timedelta(days=d + 0.5) for d in [-1] + date_tick_days]

MK = dict(color="black", size=5)

k = 0
for (r, c, title, pts, pts_b, oh, ov, smh, smv, yr, yt, yf, ym) in A_panels:
    k += 1
    xa, ya, xk, yk = axis_names(k)
    hrs_a = [i * SAMPLE_STEP_H for i in range(len(pts))]
    fig.add_trace(go.Scatter(x=hours_to_time(hrs_a), y=pts, mode="markers", xaxis=xa, yaxis=ya,
                             marker=MK, showlegend=False, hoverinfo="skip"))
    if pts_b:
        hrs_b = [OFFSET_B_H + i * SAMPLE_STEP_H for i in range(len(pts_b))]
        fig.add_trace(go.Scatter(x=hours_to_time(hrs_b), y=pts_b, mode="markers", xaxis=xa, yaxis=ya,
                                 marker=MK, showlegend=False, hoverinfo="skip"))
    if oh:
        fig.add_trace(go.Scatter(x=hours_to_time(oh), y=ov, mode="markers", xaxis=xa, yaxis=ya,
                                 marker=MK, showlegend=False, hoverinfo="skip"))
    fig.add_trace(go.Scatter(x=hours_to_time(smh), y=smv, mode="lines", xaxis=xa, yaxis=ya,
                             line=dict(color="#0000FF", width=3.6), showlegend=False, hoverinfo="skip"))
    for ch in change_hours:
        t = T0 + pd.Timedelta(hours=ch)
        shapes.append(dict(type="line", xref=xa, yref=f"{ya} domain", x0=t, x1=t, y0=0, y1=1,
                           line=dict(color="#1A1A1A", width=1), layer="above"))
    layout[xk] = dict(
        domain=dom_x(*A_COLS[c]), anchor=ya, type="date", range=x_range_A,
        tickmode="array", tickvals=date_tickvals, ticktext=date_tick_text,
        showticklabels=(r == 3), showgrid=True, gridcolor=GRID, gridwidth=1, zeroline=False,
        showline=False, ticks="outside", ticklen=3, tickcolor="rgba(0,0,0,0)", tickfont=TICKFONT,
        minor=dict(tickmode="array", tickvals=date_minorvals, showgrid=True, gridcolor=MINOR, gridwidth=1),
    )
    layout[yk] = dict(
        domain=dom_y(*A_ROWS[r]), anchor=xa, range=yr, tickmode="array", tickvals=yt,
        ticktext=[format(v, yf) for v in yt], showgrid=True, gridcolor=GRID, gridwidth=1, zeroline=False,
        showline=False, ticks="outside", ticklen=5, tickcolor="rgba(0,0,0,0)", tickfont=TICKFONT,
        minor=dict(tickmode="array", tickvals=ym, showgrid=True, gridcolor=MINOR, gridwidth=1),
    )
    ytop, ybot = A_ROWS[r]
    annotations.append(dict(text=title, xref="paper", yref="paper", x=A_YTITLE_X[c] / W,
                            y=1 - (ytop + ybot) / 2 / H, textangle=-90, showarrow=False,
                            xanchor="center", yanchor="middle",
                            font=dict(family=FONT, size=10, color="#1A1A1A")))


def quad_fit(x, y, n=100, tval=2.042):
    x = np.asarray(x, float)
    y = np.asarray(y, float)
    X = np.column_stack([np.ones_like(x), x, x ** 2])
    beta = np.linalg.lstsq(X, y, rcond=None)[0]
    resid = y - X @ beta
    s2 = resid @ resid / (len(x) - 3)
    XtXi = np.linalg.inv(X.T @ X)
    xs = np.linspace(x.min(), x.max(), n)
    Xs = np.column_stack([np.ones_like(xs), xs, xs ** 2])
    yhat = Xs @ beta
    se = np.sqrt(np.einsum("ij,jk,ik->i", Xs, XtXi, Xs) * s2)
    return xs, yhat, yhat - tval * se, yhat + tval * se


B_panels = [
    # row, col, title, y values, yrange, yticks, fmt, minor
    (0, 0, "Clarified turbidity (NTU)", b_clar_turb, [0.7765, 1.0014], [0.80, 0.85, 0.90, 0.95, 1.00],
     ".2f", [0.825, 0.875, 0.925, 0.975]),
    (0, 1, "Clarified UV254 (abs/m)", b_clar_uv, [8.367, 11.426], [8.5, 9.0, 9.5, 10.0, 10.5, 11.0],
     ".1f", [8.75, 9.25, 9.75, 10.25, 10.75, 11.25]),
    (0, 2, "Coag pump stroke (%)", b_coag_pump, [58.54, 77.08], [60, 65, 70, 75], "d",
     [62.5, 67.5, 72.5]),
    (1, 0, "Coagulated pH", b_coag_ph, [6.5868, 6.7701], [6.60, 6.65, 6.70, 6.75], ".2f",
     [6.625, 6.675, 6.725]),
    (1, 1, "Combined filter Al (mgl)", b_filt_al, [0.0052, 0.0712], [0.02, 0.04, 0.06], ".2f",
     [0.01, 0.03, 0.05, 0.07]),
    (1, 2, "Combined filter turbidity (NTU)", b_filt_turb, [0.0448, 0.1447], [0.050, 0.075, 0.100, 0.125],
     ".3f", [0.0625, 0.0875, 0.1125, 0.1375]),
]
x_range_B = [-5.81, -0.18]
b_x_minor = [-5.5, -4.5, -3.5, -2.5, -1.5, -0.5]

for (r, c, title, yv, yr, yt, yf, ym) in B_panels:
    k += 1
    xa, ya, xk, yk = axis_names(k)
    fig.add_trace(go.Scatter(x=zeta_x, y=yv, mode="markers", xaxis=xa, yaxis=ya,
                             marker=dict(color="black", size=5), showlegend=False, hoverinfo="skip"))
    xs, yh, lo, hi = quad_fit(zeta_x, yv)
    fig.add_trace(go.Scatter(x=list(xs) + list(xs[::-1]), y=list(hi) + list(lo[::-1]), mode="lines",
                             fill="toself", fillcolor="rgba(153,153,153,0.4)", line=dict(width=0),
                             xaxis=xa, yaxis=ya, showlegend=False, hoverinfo="skip"))
    fig.add_trace(go.Scatter(x=xs, y=yh, mode="lines", line=dict(color="#3366FF", width=1.6),
                             xaxis=xa, yaxis=ya, showlegend=False, hoverinfo="skip"))
    layout[xk] = dict(
        domain=dom_x(*B_COLS[c]), anchor=ya, range=x_range_B, tickmode="array", tickvals=b_x_ticks,
        ticktext=[str(v) for v in b_x_ticks], showticklabels=(r == 1), showgrid=True, gridcolor=GRID,
        gridwidth=1, zeroline=False, showline=False, ticks="outside", ticklen=3,
        tickcolor="rgba(0,0,0,0)", tickfont=TICKFONT,
        minor=dict(tickmode="array", tickvals=b_x_minor, showgrid=True, gridcolor=MINOR, gridwidth=1),
    )
    layout[yk] = dict(
        domain=dom_y(*B_ROWS[r]), anchor=xa, range=yr, tickmode="array", tickvals=yt,
        ticktext=[format(v, yf) for v in yt], showgrid=True, gridcolor=GRID, gridwidth=1, zeroline=False,
        showline=False, ticks="outside", ticklen=4, tickcolor="rgba(0,0,0,0)", tickfont=TICKFONT,
        minor=dict(tickmode="array", tickvals=ym, showgrid=True, gridcolor=MINOR, gridwidth=1),
    )
    ytop, ybot = B_ROWS[r]
    annotations.append(dict(text=title, xref="paper", yref="paper", x=B_YTITLE_X[c] / W,
                            y=1 - (ytop + ybot) / 2 / H, textangle=-90, showarrow=False,
                            xanchor="center", yanchor="middle",
                            font=dict(family=FONT, size=10.5, color="#1A1A1A")))


def px_ann(text, x, y, size, bold=False, xanchor="left", color="#000000"):
    return dict(text=f"<b>{text}</b>" if bold else text, xref="paper", yref="paper", x=x / W,
                y=1 - y / H, showarrow=False, xanchor=xanchor, yanchor="middle",
                font=dict(family=FONT, size=size, color=color))


annotations.append(px_ann("A", 12, 17, 16, bold=True))
annotations.append(px_ann("Zeta potential change example timeseries", 72, 17, 15.2))
annotations.append(px_ann("B", 746, 17, 16, bold=True))
annotations.append(px_ann("Zeta potential change example xyplots", 805, 17, 15.2))
annotations.append(px_ann("Date", 400, 803, 12.5, xanchor="center"))
annotations.append(px_ann("Zeta potential (mV)", 1133, 804, 12.8, xanchor="center"))

fig.update_layout(
    width=W, height=H, margin=dict(l=0, r=0, t=0, b=0), autosize=False,
    paper_bgcolor="white", plot_bgcolor="white", showlegend=False,
    font=dict(family=FONT, size=10, color="#333333"),
    annotations=annotations, shapes=shapes, **layout,
)

fig.write_html("out.html", config={"displayModeBar": False},
               post_script="document.body.style.margin='0';document.body.style.overflow='hidden';")
